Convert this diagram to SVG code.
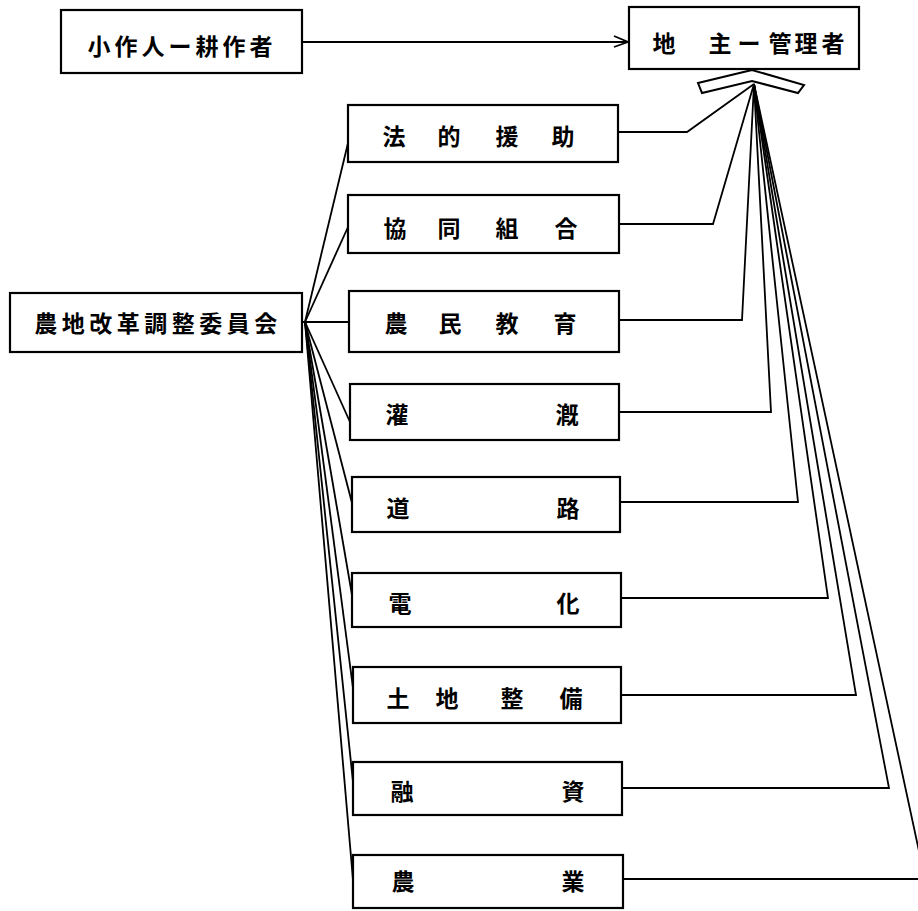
<svg xmlns="http://www.w3.org/2000/svg" width="918" height="911" viewBox="0 0 918 911">
<style>
.box{fill:#fff;stroke:#000;stroke-width:2.2}
.lbl{font-family:"Noto Sans CJK JP","Noto Sans CJK SC",sans-serif;font-size:23px;font-weight:bold;fill:#000;text-anchor:middle;dominant-baseline:central}
.ln{fill:none;stroke:#000;stroke-width:1.8;stroke-linejoin:miter}
</style>
<rect width="918" height="911" fill="#fff"/>
<g id="connectors">
<path class="ln" d="M302,42 H627"/>
<path class="ln" d="M614,36 L628,42 L614,47"/>
<path class="ln" d="M305,322 L348,143"/>
<path class="ln" d="M305,322 L348,227"/>
<path class="ln" d="M302,322 H349"/>
<path class="ln" d="M305,322 L350,422"/>
<path class="ln" d="M305,322 L352,503"/>
<path class="ln" d="M305,322 L352,595"/>
<path class="ln" d="M305,322 L353,688"/>
<path class="ln" d="M305,322 L353,782"/>
<path class="ln" d="M305,322 L353,880"/>
<path class="ln" d="M618,132 H687 L754,84"/>
<path class="ln" d="M619,224 H713 L754,84"/>
<path class="ln" d="M619,320 H742 L754,84"/>
<path class="ln" d="M619,412 H771 L754,84"/>
<path class="ln" d="M620,502 H798 L754,84"/>
<path class="ln" d="M621,598 H828 L754,84"/>
<path class="ln" d="M621,695 H856 L754,84"/>
<path class="ln" d="M622,788 H889 L754,84"/>
<path class="ln" d="M623,879 H925 L754,84"/>
<polygon points="752,70 698,83 702,93 752,81 798,93 804,85" fill="#fff" stroke="#000" stroke-width="2"/>
</g>
<g id="n_tenant">
<rect class="box" x="61" y="10" width="241" height="63"/>
<text class="lbl" x="182" y="45" style="letter-spacing:4px">小作人ー耕作者</text>
</g>
<g id="n_landlord">
<rect class="box" x="629" y="7" width="230" height="62"/>
<text class="lbl" x="664 720 749 780 806 833" y="42">地主ー管理者</text>
</g>
<g id="n_committee">
<rect class="box" x="10" y="293" width="292" height="59"/>
<text class="lbl" x="158" y="322" style="letter-spacing:4.5px">農地改革調整委員会</text>
</g>
<g id="n_legal">
<rect class="box" x="348" y="105" width="270" height="57"/>
<text class="lbl" x="394 449 507 563" y="135">法的援助</text>
</g>
<g id="n_coop">
<rect class="box" x="348" y="195" width="271" height="58"/>
<text class="lbl" x="395 449 507 566" y="227">協同組合</text>
</g>
<g id="n_edu">
<rect class="box" x="349" y="291" width="270" height="61"/>
<text class="lbl" x="396 450 507 565" y="322">農民教育</text>
</g>
<g id="n_irrig">
<rect class="box" x="350" y="384" width="269" height="56"/>
<text class="lbl" x="397 567" y="413">灌漑</text>
</g>
<g id="n_road">
<rect class="box" x="352" y="477" width="268" height="55"/>
<text class="lbl" x="398 568" y="507">道路</text>
</g>
<g id="n_elec">
<rect class="box" x="352" y="573" width="269" height="54"/>
<text class="lbl" x="400 568" y="602">電化</text>
</g>
<g id="n_land">
<rect class="box" x="353" y="667" width="268" height="56"/>
<text class="lbl" x="398 447 512 571" y="697">土地整備</text>
</g>
<g id="n_finance">
<rect class="box" x="353" y="762" width="269" height="53"/>
<text class="lbl" x="402 573" y="790">融資</text>
</g>
<g id="n_agri">
<rect class="box" x="353" y="855" width="270" height="53"/>
<text class="lbl" x="403 573" y="880">農業</text>
</g>
</svg>
